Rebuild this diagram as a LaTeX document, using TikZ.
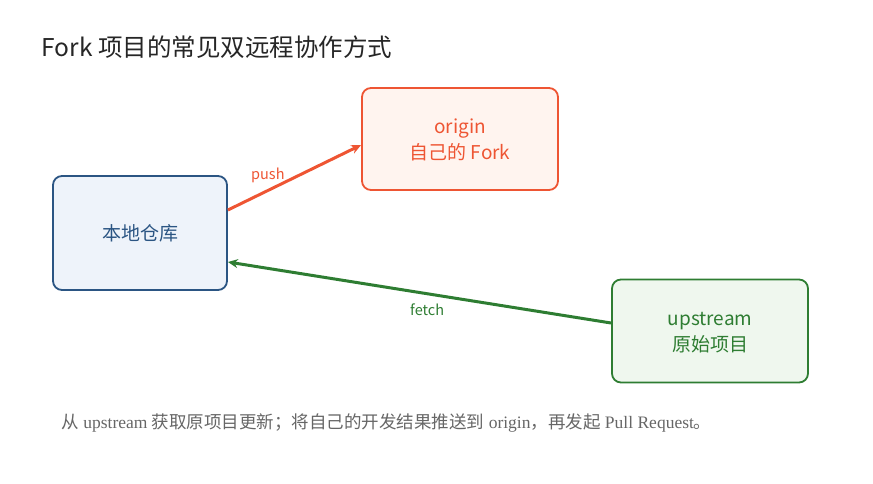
\documentclass[tikz,border=0pt]{standalone}
\usepackage{fontspec}
\setmainfont{Liberation Serif}
\newfontfamily\cjk{Noto Sans CJK SC}
\usetikzlibrary{arrows.meta}
\definecolor{bl}{HTML}{2B5583}\definecolor{blf}{HTML}{EEF3FA}
\definecolor{rd}{HTML}{EE5533}\definecolor{rdf}{HTML}{FFF4EF}
\definecolor{gr}{HTML}{2E7D32}\definecolor{grf}{HTML}{EFF7EE}
\definecolor{cap}{HTML}{666666}
\begin{document}
\begin{tikzpicture}[x=1pt,y=-1pt,
 box/.style={rounded corners=9pt,line width=1.8pt,minimum width=174pt,minimum height=102pt,align=center,font=\cjk\fontsize{19}{26}\selectfont},
 arr/.style={line width=3pt,-{Stealth[length=10pt,width=9pt]}},
 lab/.style={font=\cjk\fontsize{14.5}{18}\selectfont}]
\useasboundingbox (0,0) rectangle (873,483);
\node[anchor=west,font=\cjk\fontsize{24.5}{30}\selectfont,text=black!85] (title) at (38,47) {Fork 项目的常见双远程协作方式};
\node[box,draw=bl,fill=blf,text=bl,minimum height=114pt] (local) at (140,233) {本地仓库};
\node[box,draw=rd,fill=rdf,text=rd,minimum width=196pt] (origin) at (460,139) {\\[-10pt]origin\\自己的 Fork};
\node[box,draw=gr,fill=grf,text=gr,minimum width=196pt,minimum height=103pt] (up) at (710,331) {\\[-10pt]upstream\\原始项目};
\draw[arr,rd] (local.east|-0,210) -- (origin.west|-0,145) node[lab,text=rd,pos=0.3,above=3pt] (pl) {push};
\draw[arr,gr] (up.west|-0,323) -- (local.east|-0,262) node[lab,text=gr,pos=0.48,below=5pt] (fl) {fetch};
\node[anchor=west,text=cap,font=\fontsize{17.5}{22}\selectfont] (caption) at (58,423) {{\cjk 从} upstream {\cjk 获取原项目更新；将自己的开发结果推送到} origin{\cjk ，再发起} Pull Request{\cjk 。}};
\end{tikzpicture}
\end{document}
